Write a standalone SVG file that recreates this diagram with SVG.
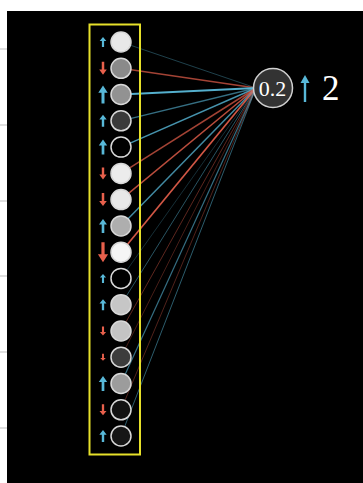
<svg xmlns="http://www.w3.org/2000/svg" width="363" height="483" viewBox="0 0 363 483">
<style>
.tick{stroke:#c8c8c8;stroke-width:1.2}
.n{stroke:#d8d8d8;stroke-width:1.5}
.b{fill:#58b8d8}
.r{fill:#e8604c}
.lb{stroke:#58b8d8;fill:none}
.lr{stroke:#e8604c;fill:none}
.t{font-family:"Liberation Serif","DejaVu Serif",serif;fill:#ffffff}
</style>
<rect x="0" y="0" width="363" height="483" fill="#ffffff"/>
<rect x="7" y="11" width="356" height="472" fill="#000000"/>
<g id="ticks">
<line class="tick" x1="0" y1="49" x2="7" y2="49"/>
<line class="tick" x1="0" y1="125" x2="7" y2="125"/>
<line class="tick" x1="0" y1="201" x2="7" y2="201"/>
<line class="tick" x1="0" y1="276" x2="7" y2="276"/>
<line class="tick" x1="0" y1="352" x2="7" y2="352"/>
<line class="tick" x1="0" y1="428" x2="7" y2="428"/>
</g>
<g id="connectors">
<line class="lb" x1="121" y1="42" x2="256" y2="88" stroke-opacity="0.35" stroke-width="1"/>
<line class="lr" x1="121" y1="68.3" x2="256" y2="88" stroke-opacity="0.7" stroke-width="1.5"/>
<line class="lb" x1="121" y1="94.5" x2="256" y2="88" stroke-opacity="0.95" stroke-width="1.8"/>
<line class="lb" x1="121" y1="120.8" x2="256" y2="88" stroke-opacity="0.6" stroke-width="1.3"/>
<line class="lb" x1="121" y1="147.1" x2="256" y2="88" stroke-opacity="0.8" stroke-width="1.5"/>
<line class="lr" x1="121" y1="173.4" x2="256" y2="88" stroke-opacity="0.7" stroke-width="1.5"/>
<line class="lr" x1="121" y1="199.6" x2="256" y2="88" stroke-opacity="0.8" stroke-width="1.5"/>
<line class="lb" x1="121" y1="225.9" x2="256" y2="88" stroke-opacity="0.75" stroke-width="1.5"/>
<line class="lr" x1="121" y1="252.2" x2="256" y2="88" stroke-opacity="0.9" stroke-width="1.7"/>
<line class="lb" x1="121" y1="278.4" x2="256" y2="88" stroke-opacity="0.25" stroke-width="1"/>
<line class="lb" x1="121" y1="304.7" x2="256" y2="88" stroke-opacity="0.45" stroke-width="1"/>
<line class="lr" x1="121" y1="331" x2="256" y2="88" stroke-opacity="0.4" stroke-width="1"/>
<line class="lr" x1="121" y1="357.2" x2="256" y2="88" stroke-opacity="0.3" stroke-width="1"/>
<line class="lb" x1="121" y1="383.5" x2="256" y2="88" stroke-opacity="0.6" stroke-width="1.2"/>
<line class="lr" x1="121" y1="409.8" x2="256" y2="88" stroke-opacity="0.35" stroke-width="1"/>
<line class="lb" x1="121" y1="436" x2="256" y2="88" stroke-opacity="0.5" stroke-width="1"/>
</g>
<rect id="frame" x="89.5" y="24.5" width="50.5" height="430" fill="none" stroke="#e6e02a" stroke-width="2"/>
<g id="n1"><circle class="n" cx="121" cy="42" r="10" fill="#e8e8e8"/><polygon class="b" points="101.9,47 101.9,41 99.7,41 103,37 106.3,41 104.1,41 104.1,47"/></g>
<g id="n2"><circle class="n" cx="121" cy="68.3" r="10" fill="#8a8a8a"/><polygon class="r" points="101.75,61.8 101.75,69.6 99.2,69.6 103,74.8 106.8,69.6 104.25,69.6 104.25,61.8"/></g>
<g id="n3"><circle class="n" cx="121" cy="94.5" r="10" fill="#929292"/><polygon class="b" points="101.5,103.5 101.5,92.7 98.3,92.7 103,85.5 107.7,92.7 104.5,92.7 104.5,103.5"/></g>
<g id="n4"><circle class="n" cx="121" cy="120.8" r="10" fill="#3a3a3a"/><polygon class="b" points="101.8,126.8 101.8,119.6 99.34,119.6 103,114.8 106.66,119.6 104.2,119.6 104.2,126.8"/></g>
<g id="n5"><circle class="n" cx="121" cy="147.1" r="10" fill="#000000"/><polygon class="b" points="101.65,154.6 101.65,145.6 98.8,145.6 103,139.6 107.2,145.6 104.35,145.6 104.35,154.6"/></g>
<g id="n6"><circle class="n" cx="121" cy="173.4" r="10" fill="#ececec"/><polygon class="r" points="101.8,167.4 101.8,174.6 99.34,174.6 103,179.4 106.66,174.6 104.2,174.6 104.2,167.4"/></g>
<g id="n7"><circle class="n" cx="121" cy="199.6" r="10" fill="#e8e8e8"/><polygon class="r" points="101.75,193.1 101.75,200.9 99.2,200.9 103,206.1 106.8,200.9 104.25,200.9 104.25,193.1"/></g>
<g id="n8"><circle class="n" cx="121" cy="225.9" r="10" fill="#aeaeae"/><polygon class="b" points="101.7,232.9 101.7,224.5 99,224.5 103,218.9 107,224.5 104.3,224.5 104.3,232.9"/></g>
<g id="n9"><circle class="n" cx="121" cy="252.2" r="10" fill="#f5f5f5"/><polygon class="r" points="101.4,242.2 101.4,254.2 97.9,254.2 103,262.2 108.1,254.2 104.6,254.2 104.6,242.2"/></g>
<g id="n10"><circle class="n" cx="121" cy="278.4" r="10" fill="#000000"/><polygon class="b" points="101.95,282.9 101.95,277.5 99.9,277.5 103,273.9 106.1,277.5 104.05,277.5 104.05,282.9"/></g>
<g id="n11"><circle class="n" cx="121" cy="304.7" r="10" fill="#c6c6c6"/><polygon class="b" points="101.85,310.2 101.85,303.6 99.5,303.6 103,299.2 106.5,303.6 104.15,303.6 104.15,310.2"/></g>
<g id="n12"><circle class="n" cx="121" cy="331" r="10" fill="#c4c4c4"/><polygon class="r" points="101.95,326.5 101.95,331.9 99.9,331.9 103,335.5 106.1,331.9 104.05,331.9 104.05,326.5"/></g>
<g id="n13"><circle class="n" cx="121" cy="357.2" r="10" fill="#3c3c3c"/><polygon class="r" points="102.05,353.7 102.05,357.9 100.24,357.9 103,360.7 105.76,357.9 103.95,357.9 103.95,353.7"/></g>
<g id="n14"><circle class="n" cx="121" cy="383.5" r="10" fill="#9c9c9c"/><polygon class="b" points="101.65,391 101.65,382 98.8,382 103,376 107.2,382 104.35,382 104.35,391"/></g>
<g id="n15"><circle class="n" cx="121" cy="409.8" r="10" fill="#121212"/><polygon class="r" points="101.85,404.3 101.85,410.9 99.5,410.9 103,415.3 106.5,410.9 104.15,410.9 104.15,404.3"/></g>
<g id="n16"><circle class="n" cx="121" cy="436" r="10" fill="#161616"/><polygon class="b" points="101.8,442 101.8,434.8 99.34,434.8 103,430 106.66,434.8 104.2,434.8 104.2,442"/></g>
<g id="out">
<circle cx="273" cy="88" r="19.5" fill="#333333" stroke="#d0d0d0" stroke-width="1.5"/>
<text class="t" x="272.5" y="96" font-size="22" text-anchor="middle">0.2</text>
<polygon class="b" points="303.8,102 303.8,83 300.5,83 305,75 309.5,83 306.2,83 306.2,102"/>
<text class="t" x="322" y="100" font-size="35">2</text>
</g>
</svg>
